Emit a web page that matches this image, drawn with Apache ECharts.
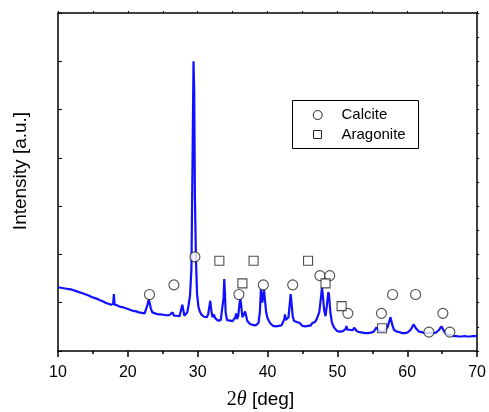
<!DOCTYPE html>
<html>
<head>
<meta charset="utf-8">
<script src="https://cdn.jsdelivr.net/npm/echarts@6/dist/echarts.min.js"></script>
<style>html,body{margin:0;padding:0;background:#fff;}#c{width:489px;height:412px;}</style>
</head>
<body>
<div id="c"></div>
<script>
// XRD pattern: 2θ (deg) and intensity (a.u., plotted on 0..700 scale)
const twoTheta = [10.0,10.2,10.4,10.6,10.8,11.0,11.2,11.4,11.6,11.8,12.0,12.2,12.4,12.6,12.8,13.0,13.2,13.4,13.6,13.8,14.0,14.2,14.4,14.6,14.8,15.0,15.2,15.4,15.6,15.8,16.0,16.2,16.4,16.6,16.8,17.0,17.2,17.4,17.6,17.8,17.9,18.0,18.1,18.2,18.4,18.6,18.8,19.0,19.2,19.4,19.6,19.8,20.0,20.2,20.4,20.6,20.8,21.0,21.2,21.4,21.6,21.8,22.0,22.2,22.4,22.6,22.8,23.0,23.1,23.3,23.5,23.7,23.9,24.1,24.3,24.5,24.7,24.9,25.1,25.3,25.5,25.7,25.9,26.1,26.4,26.6,26.8,27.0,27.2,27.4,27.6,27.8,27.9,28.1,28.3,28.5,28.7,28.9,29.1,29.25,29.4,29.5,29.6,29.75,29.9,30.1,30.3,30.5,30.7,30.9,31.1,31.3,31.5,31.7,31.8,31.9,32.1,32.3,32.5,32.7,32.9,33.1,33.3,33.5,33.7,33.8,33.9,34.0,34.2,34.4,34.6,34.8,35.0,35.2,35.4,35.5,35.6,35.8,36.0,36.1,36.2,36.4,36.6,36.8,36.9,37.1,37.3,37.5,37.7,37.9,38.1,38.3,38.5,38.7,38.9,39.05,39.15,39.25,39.4,39.5,39.6,39.8,40.0,40.2,40.4,40.6,40.8,41.0,41.2,41.4,41.6,41.8,42.0,42.2,42.4,42.5,42.6,42.8,43.0,43.2,43.3,43.4,43.6,43.8,44.0,44.2,44.4,44.6,44.8,45.0,45.2,45.4,45.6,45.8,46.0,46.2,46.4,46.6,46.8,47.0,47.2,47.4,47.6,47.8,47.9,48.1,48.3,48.5,48.7,48.8,49.0,49.2,49.4,49.6,49.8,50.0,50.2,50.4,50.6,50.8,51.0,51.2,51.3,51.4,51.6,51.8,52.0,52.2,52.4,52.5,52.6,52.8,53.0,53.2,53.4,53.6,53.8,54.0,54.2,54.4,54.6,54.8,55.0,55.2,55.4,55.6,55.7,55.8,56.0,56.2,56.4,56.6,56.8,57.0,57.2,57.4,57.6,57.7,57.9,58.1,58.3,58.5,58.7,58.9,59.1,59.3,59.5,59.7,59.9,60.1,60.3,60.5,60.7,60.9,61.0,61.1,61.3,61.5,61.7,61.9,62.1,62.3,62.5,62.7,62.9,63.1,63.3,63.5,63.7,63.9,64.1,64.3,64.5,64.7,64.9,65.0,65.2,65.4,65.6,65.8,66.0,66.2,66.4,66.6,66.8,67.0,67.2,67.4,67.6,67.8,68.0,68.2,68.4,68.6,68.8,69.0,69.2,69.4,69.6,69.8,70.0];
const intensity = [132,135,131,134,130,133,129,132,128,131,127,129,125,127,123,126,121,123,119,121,117,119,115,117,112,114,110,112,108,109,105,107,103,104,100,102,98,99,96,97,98,118,96,94,95,91,92,89,91,87,89,85,87,83,85,81,83,80,82,78,80,76,79,76,78,80,95,107,103,88,80,76,78,74,76,73,76,72,75,72,74,71,74,73,80,73,70,73,69,72,74,96,88,73,75,80,95,115,170,380,600,540,320,190,120,92,82,76,74,71,72,70,76,95,104,90,70,76,68,66,63,62,64,66,110,149,120,80,64,61,63,59,62,60,70,78,66,72,100,108,98,70,68,82,78,62,58,56,57,54,55,53,56,58,80,128,110,100,118,126,110,80,68,62,57,54,52,54,51,53,52,54,53,56,66,76,64,60,70,100,118,105,72,62,58,60,64,58,56,52,54,51,55,52,56,53,58,55,60,65,68,80,105,132,118,85,72,95,122,116,80,60,52,47,43,41,42,40,43,41,44,46,52,44,42,44,41,43,48,52,45,41,42,39,40,38,40,37,39,37,40,38,41,40,44,49,50,45,41,42,40,43,42,45,50,60,70,66,52,44,41,40,38,39,36,37,35,37,36,39,41,44,48,55,57,53,46,43,40,38,39,36,37,35,37,36,38,36,37,39,38,41,43,47,51,50,43,38,36,34,35,33,34,31,33,31,33,30,32,30,33,31,33,30,32,30,32,31,33,31,32];

// Phase markers
const calcitePos = [23.1,26.6,29.6,35.9,39.4,43.6,47.5,48.9,51.5,56.3,57.9,61.2,63.1,65.1,66.1];
const calciteY   = [117,137,195,117,137,137,156,156,78,78,117,117,39,78,39];
const aragonitePos = [33.1,36.4,38.0,45.8,48.3,50.6,56.4];
const aragoniteY   = [187,140,187,187,140,93,47];

const xTicks = [10,20,30,40,50,60,70];

const pairs = (a,b) => a.map((v,i)=>[v,b[i]]);

const chart = echarts.init(document.getElementById('c'), null, {renderer:'canvas'});
const axisLine = {show:true, onZero:false, lineStyle:{color:'#000', width:1.5}};
chart.setOption({
  animation:false,
  backgroundColor:'#fff',
  grid:{left:58, right:11, top:13, bottom:61, containLabel:false},
  xAxis:[
    {type:'value', min:10, max:70, interval:10, position:'bottom',
     axisLine:axisLine,
     axisTick:{show:true, inside:false, length:6, lineStyle:{color:'#000', width:1.5}},
     minorTick:{show:true, splitNumber:2, length:3, lineStyle:{color:'#000', width:1.5}},
     splitLine:{show:false},
     axisLabel:{show:true, margin:14, color:'#000', fontSize:16, fontFamily:'Liberation Sans, Arial',
       formatter:v => xTicks.includes(v) ? String(v) : ''}},
    {type:'value', min:10, max:70, interval:5, position:'top',
     axisLine:axisLine,
     axisTick:{show:true, inside:false, length:2, lineStyle:{color:'#000', width:1}},
     splitLine:{show:false}, axisLabel:{show:false}}
  ],
  yAxis:[
    {type:'value', min:0, max:700, interval:100, position:'left',
     axisLine:axisLine,
     axisTick:{show:true, inside:true, length:4, lineStyle:{color:'#000', width:1}},
     splitLine:{show:false}, axisLabel:{show:false}},
    {type:'value', min:0, max:700, interval:50, position:'right',
     axisLine:axisLine,
     axisTick:{show:true, inside:false, length:2, lineStyle:{color:'#000', width:1}},
     splitLine:{show:false}, axisLabel:{show:false}}
  ],
  series:[
    {type:'line', name:'XRD', data:pairs(twoTheta,intensity), showSymbol:false, symbol:'none',
     lineStyle:{color:'#1010ff', width:2.2}, z:2},
    {type:'scatter', name:'Calcite', data:pairs(calcitePos,calciteY), symbol:'circle', symbolSize:10,
     itemStyle:{color:'#fff', borderColor:'#222', borderWidth:1.1}, z:3},
    {type:'scatter', name:'Aragonite', data:pairs(aragonitePos,aragoniteY), symbol:'rect', symbolSize:9,
     itemStyle:{color:'#fff', borderColor:'#222', borderWidth:1.1}, z:4}
  ],
  graphic:[
    {type:'rect', shape:{x:292.5, y:100.5, width:126, height:48}, style:{fill:'#fff', stroke:'#000', lineWidth:1}, z:10},
    {type:'circle', shape:{cx:317.7, cy:115, r:4.5}, style:{fill:'#fff', stroke:'#222', lineWidth:1}, z:11},
    {type:'rect', shape:{x:313.5, y:130.5, width:8, height:8}, style:{fill:'#fff', stroke:'#222', lineWidth:1}, z:11},
    {type:'text', style:{x:341.5, y:115, text:'Calcite', fill:'#000', font:'15px "Liberation Sans", Arial', verticalAlign:'middle'}, z:11},
    {type:'text', style:{x:341.5, y:135, text:'Aragonite', fill:'#000', font:'15px "Liberation Sans", Arial', verticalAlign:'middle'}, z:11},
    {type:'text', style:{x:260.5, y:400, align:'center', verticalAlign:'middle',
      text:'{a|2}{b|θ}{c| [deg]}',
      rich:{a:{fontFamily:'Liberation Serif', fontSize:20, fill:'#000'},
            b:{fontFamily:'Liberation Serif', fontStyle:'italic', fontSize:20, fill:'#000'},
            c:{fontFamily:'Liberation Sans', fontSize:19, fill:'#000'}}}, z:11},
    {type:'text', rotation:Math.PI/2, x:21, y:171,
     style:{x:0, y:0, text:'Intensity [a.u.]', align:'center', verticalAlign:'middle', fill:'#000',
       font:'19px "Liberation Sans", Arial'}, z:11}
  ]
});
</script>
</body>
</html>
